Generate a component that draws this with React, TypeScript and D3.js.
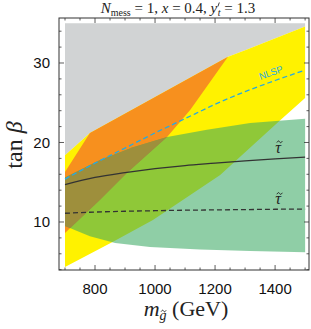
import React from "react";
import * as d3 from "d3";

// ---- data (m_gluino in GeV, tan beta) ----
const yellowUpper: [number, number][] = [[700, 18.4], [783, 21.2], [1243, 30.8], [1300, 31.6], [1500, 34.6]];
const yellowLower: [number, number][] = [[1500, 25.6], [1417, 22.8], [1217, 15.9], [993, 10.25], [860, 7.5], [700, 4.35]];
const orangeRegion: [number, number][] = [[700, 16.3], [783, 21.2], [1243, 30.8], [1117, 24.1], [1040, 20.7], [907, 16.2], [817, 12.8], [700, 8.6]];
const greenUpper: [number, number][] = [[700, 15.6], [817, 17.8], [927, 19.4], [1040, 20.7], [1173, 21.6], [1317, 22.45], [1500, 23.0]];
const greenLower: [number, number][] = [[1500, 6.2], [1317, 6.35], [1150, 6.55], [983, 6.85], [867, 7.35], [783, 8.2], [700, 9.5]];
const grayTop = 35;
const xEnds = [700, 1500];

const nlspLine: [number, number][] = [[700, 15.4], [800, 17.4], [900, 19.3], [1000, 21.2], [1100, 23.0], [1200, 24.8], [1300, 26.4], [1400, 27.8], [1500, 29.1]];
const stauSolid: [number, number][] = [[700, 14.7], [800, 15.6], [900, 16.2], [1000, 16.7], [1100, 17.1], [1200, 17.4], [1300, 17.7], [1400, 17.95], [1500, 18.15]];
const stauDashed: [number, number][] = [[700, 11.1], [800, 11.25], [900, 11.35], [1000, 11.42], [1100, 11.48], [1200, 11.52], [1300, 11.56], [1400, 11.6], [1500, 11.62]];

const xMajor = [800, 1000, 1200, 1400];
const yMajor = [10, 20, 30];

const W = 311, H = 329;
const frame = { l: 59, r: 309, t: 18, b: 270 };

const tildePath = (cx: number, cy: number, w: number) => {
  const h = w * 0.22;
  return `M${cx - w / 2},${cy + h * 0.6} C${cx - w / 4},${cy - h * 1.2} ${cx - w / 8},${cy - h} ${cx},${cy} C${cx + w / 8},${cy + h} ${cx + w / 4},${cy + h * 1.2} ${cx + w / 2},${cy - h * 0.6}`;
};

export default function App() {
  const yRef = React.useRef<SVGTSpanElement>(null);
  const gRef = React.useRef<SVGTSpanElement>(null);
  const [primeX, setPrimeX] = React.useState(219);
  const [gX, setGX] = React.useState(160);

  React.useLayoutEffect(() => {
    if (yRef.current) {
      const b = yRef.current.getBBox();
      setPrimeX(b.x + b.width + 0.5);
    }
    if (gRef.current) {
      const b = gRef.current.getBBox();
      setGX(b.x + b.width / 2 + 0.5);
    }
  }, []);

  const x = d3.scaleLinear().domain([680, 1513]).range([frame.l, frame.r]);
  const y = d3.scaleLinear().domain([3.96, 35.66]).range([frame.b, frame.t]);
  const poly = (pts: [number, number][]) => "M" + pts.map(p => `${x(p[0])},${y(p[1])}`).join("L") + "Z";
  const line = d3.line<[number, number]>().x(d => x(d[0])).y(d => y(d[1])).curve(d3.curveMonotoneX);

  const grayPts: [number, number][] = [[xEnds[0], grayTop], [xEnds[1], grayTop], ...yellowUpper.slice().reverse()];
  const yellowPts = [...yellowUpper, ...yellowLower];
  const greenPts = [...greenUpper, ...greenLower];

  const xMinor = d3.range(700, 1501, 50).filter(v => !xMajor.includes(v));
  const yMinor = d3.range(4, 36, 2).filter(v => !yMajor.includes(v));

  const frameColor = "#333";
  const tick = (key: string, x1: number, y1: number, x2: number, y2: number) => (
    <line key={key} x1={x1} y1={y1} x2={x2} y2={y2} stroke={frameColor} strokeWidth={0.8} />
  );

  // NLSP label position
  const lx = 1390, ly = 28.4;
  const ang = Math.atan2(y(29.1) - y(26.4), x(1500) - x(1300)) * 180 / Math.PI;

  const tauLabel = (key: string, cx: number, cy: number) => (
    <g key={key}>
      <text x={cx} y={cy} fontFamily="Liberation Serif, serif" fontStyle="italic" fontSize={16} fill="#222" textAnchor="middle">τ</text>
      <path d={tildePath(cx + 1.5, cy - 11, 5.5)} fill="none" stroke="#222" strokeWidth={0.9} />
    </g>
  );

  return (
    <svg width={W} height={H} style={{ position: "absolute", left: 0, top: 0, background: "#fff" }}>
      <defs>
        <clipPath id="greenClip"><path d={poly(greenPts)} /></clipPath>
      </defs>
      <path d={poly(grayPts)} fill="#d1d3d4" />
      <path d={poly(yellowPts)} fill="#fff200" />
      <path d={poly(orangeRegion)} fill="#f7901e" />
      <path d={poly(greenPts)} fill="#3aa863" fillOpacity={0.57} />
      <path d={poly(orangeRegion)} fill="#9e8f3c" clipPath="url(#greenClip)" />

      <path d={line(nlspLine) || ""} fill="none" stroke="#27aae1" strokeWidth={1.3} strokeDasharray="5,3" />
      <path d={line(stauSolid) || ""} fill="none" stroke="#333" strokeWidth={1.3} />
      <path d={line(stauDashed) || ""} fill="none" stroke="#333" strokeWidth={1.3} strokeDasharray="5,3" />

      <text x={x(lx)} y={y(ly)} fill="#27aae1" fontFamily="Liberation Sans, Arial, sans-serif" fontSize={9.5}
        textAnchor="middle" transform={`rotate(${ang} ${x(lx)} ${y(ly)})`}>NLSP</text>
      {tauLabel("t1", x(1410), y(18.7))}
      {tauLabel("t2", x(1410), y(12.2))}

      {/* frame */}
      <rect x={frame.l} y={frame.t} width={frame.r - frame.l} height={frame.b - frame.t} fill="none" stroke={frameColor} strokeWidth={1} />
      {xMajor.map(v => tick("xb" + v, x(v), frame.b, x(v), frame.b - 5))}
      {xMajor.map(v => tick("xt" + v, x(v), frame.t, x(v), frame.t + 5))}
      {xMinor.map(v => tick("xbm" + v, x(v), frame.b, x(v), frame.b - 2.5))}
      {xMinor.map(v => tick("xtm" + v, x(v), frame.t, x(v), frame.t + 2.5))}
      {yMajor.map(v => tick("yl" + v, frame.l, y(v), frame.l + 5, y(v)))}
      {yMajor.map(v => tick("yr" + v, frame.r, y(v), frame.r - 5, y(v)))}
      {yMinor.map(v => tick("ylm" + v, frame.l, y(v), frame.l + 2.5, y(v)))}
      {yMinor.map(v => tick("yrm" + v, frame.r, y(v), frame.r - 2.5, y(v)))}

      {xMajor.map(v => (
        <text key={"xl" + v} x={x(v)} y={294} textAnchor="middle" fontFamily="Liberation Sans, Arial, sans-serif" fontSize={15} fill="#111">{v}</text>
      ))}
      {yMajor.map(v => (
        <text key={"yl" + v} x={50} y={y(v)} dy="0.36em" textAnchor="end" fontFamily="Liberation Sans, Arial, sans-serif" fontSize={15} fill="#111">{v}</text>
      ))}

      {/* title */}
      <text x={178} y={13} textAnchor="middle" fontFamily="Liberation Serif, serif" fontSize={15} fill="#222">
        <tspan fontStyle="italic">N</tspan>
        <tspan fontSize={10} dy={3}>mess</tspan>
        <tspan dy={-3}> = 1, </tspan>
        <tspan fontStyle="italic">x</tspan>
        <tspan> = 0.4, </tspan>
        <tspan ref={yRef} fontStyle="italic">y</tspan>
        <tspan fontSize={10} dx={0.5} dy={3} fontStyle="italic">t</tspan>
        <tspan dy={-3}> = 1.3</tspan>
      </text>
      <line x1={primeX + 1.2} y1={2.5} x2={primeX - 0.2} y2={6.5} stroke="#222" strokeWidth={0.9} />

      {/* axis labels */}
      <text transform="translate(22,145) rotate(-90)" textAnchor="middle" fontFamily="Liberation Serif, serif" fontSize={24} fill="#222">
        tan <tspan fontStyle="italic">β</tspan>
      </text>
      <text x={186} y={316} textAnchor="middle" fontFamily="Liberation Serif, serif" fontSize={22} fill="#222">
        <tspan fontStyle="italic">m</tspan>
        <tspan ref={gRef} fontSize={14} dy={4} fontStyle="italic">g</tspan>
        <tspan dy={-4}> (GeV)</tspan>
      </text>
      <path d={tildePath(gX, 311, 5)} fill="none" stroke="#222" strokeWidth={0.9} />
    </svg>
  );
}
